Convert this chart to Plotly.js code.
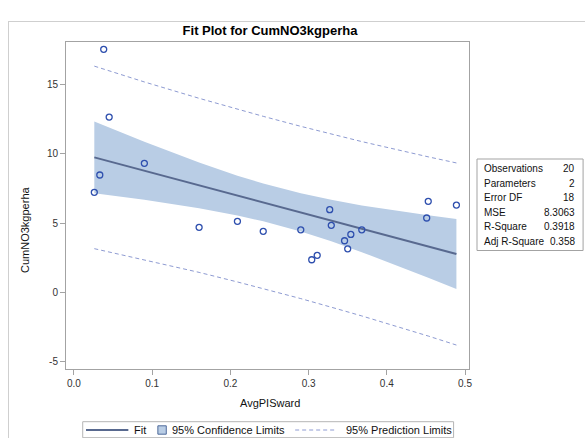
<!DOCTYPE html>
<html>
<head>
<meta charset="utf-8">
<script src="https://cdn.plot.ly/plotly-3.0.1.min.js"></script>
<style>
  html, body { margin: 0; padding: 0; background: #fff; overflow: hidden; }
  #chart { width: 585px; height: 438px; position: absolute; left: 0; top: 0; }
  #frame { position: absolute; left: 8px; top: 21px; width: 640px; height: 500px; border: 1px solid #cfcfcf; pointer-events: none; }
</style>
</head>
<body>
<div id="chart"></div>
<div id="frame"></div>
<script>
const avgPISward = [0.026, 0.033, 0.038, 0.045, 0.090, 0.160, 0.209, 0.242, 0.290, 0.304,
                    0.311, 0.327, 0.329, 0.346, 0.350, 0.354, 0.368, 0.451, 0.453, 0.489];
const cumNO3 = [7.21, 8.46, 17.52, 12.64, 9.30, 4.69, 5.12, 4.40, 4.51, 2.35,
                2.67, 5.96, 4.83, 3.72, 3.14, 4.18, 4.51, 5.36, 6.56, 6.29];

// Fit line and limits (at these x positions)
const curveX   = [0.026, 0.038, 0.090, 0.160, 0.209, 0.242, 0.290, 0.329, 0.368, 0.453, 0.489];
const fitY     = [9.73, 9.55, 8.77, 7.71, 6.98, 6.48, 5.76, 5.17, 4.59, 3.31, 2.77];
const clUpper  = [12.31, 12.03, 10.86, 9.36, 8.41, 7.85, 7.14, 6.67, 6.27, 5.56, 5.29];
const clLower  = [7.15, 7.07, 6.67, 6.07, 5.54, 5.12, 4.38, 3.68, 2.90, 1.06, 0.24];
const plUpper  = [16.31, 16.09, 15.17, 13.99, 13.20, 12.69, 11.97, 11.41, 10.87, 9.77, 9.33];
const plLower  = [3.15, 3.00, 2.36, 1.44, 0.75, 0.27, -0.45, -1.07, -1.70, -3.15, -3.80];

// Fit statistics table
const statLabels = ["Observations", "Parameters", "Error DF", "MSE", "R-Square", "Adj R-Square"];
const statValues = ["20", "2", "18", "8.3063", "0.3918", "0.358"];

// Legend labels
const legendLabels = ["Fit", "95% Confidence Limits", "95% Prediction Limits"];

const FONT = "Liberation Sans, Arial, sans-serif";
const bandColor = "#B9CDE5";
const fitColor = "#58698F";
const predColor = "#8E9BD2";
const markerColor = "#2E4FAE";
const frameColor = "#A3A3A3";
const textColor = "#333333";

const traces = [
  { x: curveX, y: clLower, type: "scatter", mode: "lines", line: { width: 0 }, hoverinfo: "skip", showlegend: false },
  { x: curveX, y: clUpper, type: "scatter", mode: "lines", line: { width: 0 }, fill: "tonexty", fillcolor: bandColor, hoverinfo: "skip", showlegend: false },
  { x: curveX, y: plUpper, type: "scatter", mode: "lines", line: { color: predColor, width: 1, dash: "4px,3px" }, showlegend: false },
  { x: curveX, y: plLower, type: "scatter", mode: "lines", line: { color: predColor, width: 1, dash: "4px,3px" }, showlegend: false },
  { x: curveX, y: fitY, type: "scatter", mode: "lines", line: { color: fitColor, width: 2 }, showlegend: false },
  { x: avgPISward, y: cumNO3, type: "scatter", mode: "markers",
    marker: { symbol: "circle-open", size: 6, color: markerColor, line: { width: 1.3, color: markerColor } }, showlegend: false }
];

// pixel -> paper helpers (plot area: x 66..468.7, y 42..369)
const L = 66, R = 468.7, T = 42, B = 369;
const px = v => (v - L) / (R - L);
const py = v => (B - v) / (B - T);

const shapes = [];
const annotations = [];

// Stats box
shapes.push({ type: "rect", xref: "paper", yref: "paper", x0: px(476.7), x1: px(582.7), y0: py(250.5), y1: py(159),
  line: { color: frameColor, width: 1 }, fillcolor: "rgba(0,0,0,0)" });
const rowY = [168.5, 183, 197.5, 212, 226.5, 241];
statLabels.forEach((lab, i) => {
  annotations.push({ xref: "paper", yref: "paper", x: px(481.7), y: py(rowY[i]), xanchor: "left", yanchor: "middle",
    text: lab, showarrow: false, font: { family: FONT, size: 10, color: "#111" } });
  annotations.push({ xref: "paper", yref: "paper", x: px(576.5), y: py(rowY[i]), xanchor: "right", yanchor: "middle",
    text: statValues[i], showarrow: false, font: { family: FONT, size: 10, color: "#111" } });
});

// Legend
const legY = 430;
shapes.push({ type: "rect", xref: "paper", yref: "paper", x0: px(82.7), x1: px(453.3), y0: py(437.7), y1: py(421.7),
  line: { color: "#B5B5B5", width: 1 }, fillcolor: "rgba(0,0,0,0)" });
shapes.push({ type: "line", xref: "paper", yref: "paper", x0: px(86), x1: px(128.3), y0: py(legY), y1: py(legY),
  line: { color: fitColor, width: 2 } });
shapes.push({ type: "rect", xref: "paper", yref: "paper", x0: px(157.8), x1: px(166.2), y0: py(434.2), y1: py(425.8),
  line: { color: "#4E6A9A", width: 1 }, fillcolor: bandColor });
shapes.push({ type: "line", xref: "paper", yref: "paper", x0: px(295), x1: px(335), y0: py(legY), y1: py(legY),
  line: { color: predColor, width: 1, dash: "4px,3px" } });
[[131.7, legendLabels[0]], [170, legendLabels[1]], [343.3, legendLabels[2]]].forEach(([xp, t]) => {
  annotations.push({ xref: "paper", yref: "paper", x: px(xp), y: py(legY), xanchor: "left", yanchor: "middle",
    text: t, showarrow: false, font: { family: FONT, size: 11, color: "#111" } });
});

// Axis titles
annotations.push({ xref: "paper", yref: "paper", x: px(270), y: py(402.7), xanchor: "center", yanchor: "middle",
  text: "AvgPISward", showarrow: false, font: { family: FONT, size: 11, color: "#111" } });
annotations.push({ xref: "paper", yref: "paper", x: px(25), y: py(230), xanchor: "center", yanchor: "middle", textangle: -90,
  text: "CumNO3kgperha", showarrow: false, font: { family: FONT, size: 11, color: "#111" } });

const layout = {
  width: 585, height: 438,
  margin: { l: L, r: 585 - R, t: T, b: 438 - B, pad: 0 },
  paper_bgcolor: "rgba(0,0,0,0)", plot_bgcolor: "#fff",
  showlegend: false,
  title: { text: "<b>Fit Plot for CumNO3kgperha</b>", x: 270 / 585, xref: "container", xanchor: "center",
    y: 1 - 30 / 438, yref: "container", yanchor: "middle", font: { family: FONT, size: 13, color: "#000" } },
  xaxis: { range: [-0.0102, 0.5051], tickmode: "array", tickvals: [0, 0.1, 0.2, 0.3, 0.4, 0.5],
    ticktext: ["0.0", "0.1", "0.2", "0.3", "0.4", "0.5"],
    showgrid: false, zeroline: false, showline: true, mirror: true, linecolor: frameColor, linewidth: 1,
    ticks: "outside", ticklen: 5, tickcolor: frameColor, tickfont: { family: FONT, size: 10, color: textColor } },
  yaxis: { range: [-5.526, 18.05], tickmode: "array", tickvals: [-5, 0, 5, 10, 15],
    ticktext: ["-5", "0", "5", "10", "15"],
    showgrid: false, zeroline: false, showline: true, mirror: true, linecolor: frameColor, linewidth: 1,
    ticks: "outside", ticklen: 5, tickcolor: frameColor, tickfont: { family: FONT, size: 10, color: textColor } },
  shapes: shapes,
  annotations: annotations
};

Plotly.newPlot("chart", traces, layout, { staticPlot: true, displayModeBar: false });
</script>
</body>
</html>
